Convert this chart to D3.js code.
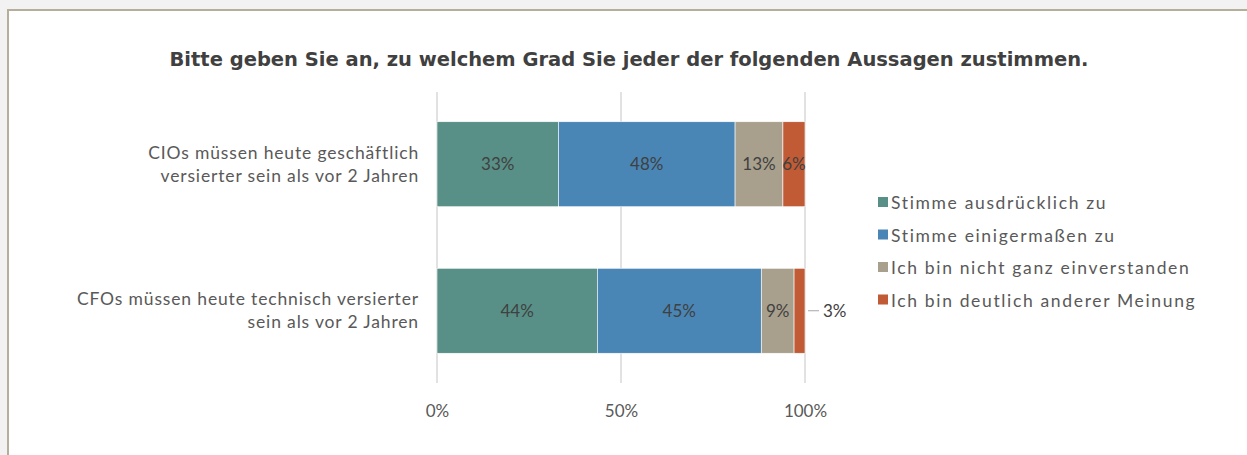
<!DOCTYPE html>
<html>
<head>
<meta charset="utf-8">
<script src="https://cdn.jsdelivr.net/npm/d3@7"></script>
<style>
  body { margin:0; background:#f2f2f2; }
  svg { display:block; }
  text { font-family: "Lato", "Open Sans", sans-serif; }
</style>
</head>
<body>
<svg id="chart" width="1247" height="455"></svg>
<script>
// data
var categories = ["CIOs müssen heute geschäftlich versierter sein als vor 2 Jahren",
                  "CFOs müssen heute technisch versierter sein als vor 2 Jahren"];
var catLines = [["CIOs müssen heute geschäftlich", "versierter sein als vor 2 Jahren"],
                ["CFOs müssen heute technisch versierter", "sein als vor 2 Jahren"]];
var seriesNames = ["Stimme ausdrücklich zu", "Stimme einigermaßen zu",
                   "Ich bin nicht ganz einverstanden", "Ich bin deutlich anderer Meinung"];
var stronglyAgree = [33, 44];
var somewhatAgree = [48, 45];
var notQuite = [13, 9];
var disagree = [6, 3];
var xTicks = [0, 0.5, 1];
var colors = ["#589087", "#4986b6", "#a8a08d", "#c05b36"];

var svg = d3.select("#chart");

// frame
svg.append("rect").attr("x", 8).attr("y", 10).attr("width", 1260).attr("height", 460)
    .attr("fill", "#fff").attr("stroke", "#b5ae9a").attr("stroke-width", 2);

svg.append("text")
    .attr("x", 629).attr("y", 66)
    .attr("text-anchor", "middle")
    .style("font-family", "'DejaVu Sans', sans-serif")
    .style("font-weight", "bold")
    .style("font-size", "19.5px")
    .attr("fill", "#404040")
    .text("Bitte geben Sie an, zu welchem Grad Sie jeder der folgenden Aussagen zustimmen.");

var rows = categories.map(function(c, i){
    var vals = [stronglyAgree[i], somewhatAgree[i], notQuite[i], disagree[i]];
    var total = d3.sum(vals);
    var acc = 0;
    return vals.map(function(v, k){
        var s = {row:i, k:k, v:v, x0:acc/total, x1:(acc+v)/total};
        acc += v;
        return s;
    });
});

var x = d3.scaleLinear().domain([0, 1]).range([437, 805]);
var y = d3.scaleBand().domain(d3.range(categories.length)).range([92, 383]).paddingInner(0.42).paddingOuter(0.203);

// grid
svg.append("g").selectAll("line").data(xTicks).join("line")
    .attr("x1", d => x(d)).attr("x2", d => x(d))
    .attr("y1", 92).attr("y2", 383)
    .attr("stroke", "#d9d9d9").attr("stroke-width", 1.5);

var xAxis = d3.axisBottom(x).tickValues(xTicks).tickFormat(d3.format(".0%")).tickSize(0).tickPadding(0);
var ax = svg.append("g").attr("transform", "translate(0,417)").call(xAxis);
ax.select(".domain").remove();
ax.selectAll("text").style("font-size", "17px").attr("fill", "#595959").attr("dy", 0);

// bars
var segs = svg.append("g").selectAll("g").data(rows).join("g");
segs.selectAll("rect").data(d => d).join("rect")
    .attr("x", d => x(d.x0))
    .attr("width", d => x(d.x1) - x(d.x0))
    .attr("y", d => y(d.row))
    .attr("height", y.bandwidth())
    .attr("fill", d => colors[d.k])
    .attr("stroke", "#fff").attr("stroke-width", 0.6);

// data labels
segs.selectAll("text").data(d => d).join("text")
    .attr("x", function(d){
        if (d.row === 1 && d.k === 3) return x(1) + 18;
        return (x(d.x0) + x(d.x1)) / 2;
    })
    .attr("y", d => y(d.row) + y.bandwidth()/2 + 6)
    .attr("text-anchor", d => (d.row === 1 && d.k === 3) ? "start" : "middle")
    .style("font-size", "17px")
    .attr("fill", "#404040")
    .text(d => d.v + "%");

// leader line for the small slice
svg.append("line")
    .attr("x1", x(1) + 3).attr("x2", x(1) + 14)
    .attr("y1", y(1) + y.bandwidth()/2).attr("y2", y(1) + y.bandwidth()/2)
    .attr("stroke", "#a6a6a6").attr("stroke-width", 1);

// category labels
catLines.forEach(function(lines, i){
    var t = svg.append("text")
        .attr("text-anchor", "end")
        .style("font-size", "17.5px")
        .style("letter-spacing", "0.85px")
        .attr("fill", "#595959");
    lines.forEach(function(l, j){
        t.append("tspan").attr("x", 419)
            .attr("y", y(i) + y.bandwidth()/2 + (j - 0.5) * 23 + 6)
            .text(l);
    });
});

// legend
var leg = svg.append("g").selectAll("g").data(seriesNames).join("g")
    .attr("transform", (d, i) => "translate(878," + (209 + i * 32.5) + ")");
leg.append("rect").attr("x", 0).attr("y", -12).attr("width", 10).attr("height", 10)
    .attr("fill", (d, i) => colors[i]);
leg.append("text").attr("x", 13).attr("y", 0)
    .style("font-size", "17.5px").style("letter-spacing", "1.65px")
    .attr("fill", "#595959")
    .text(d => d);
</script>
</body>
</html>
